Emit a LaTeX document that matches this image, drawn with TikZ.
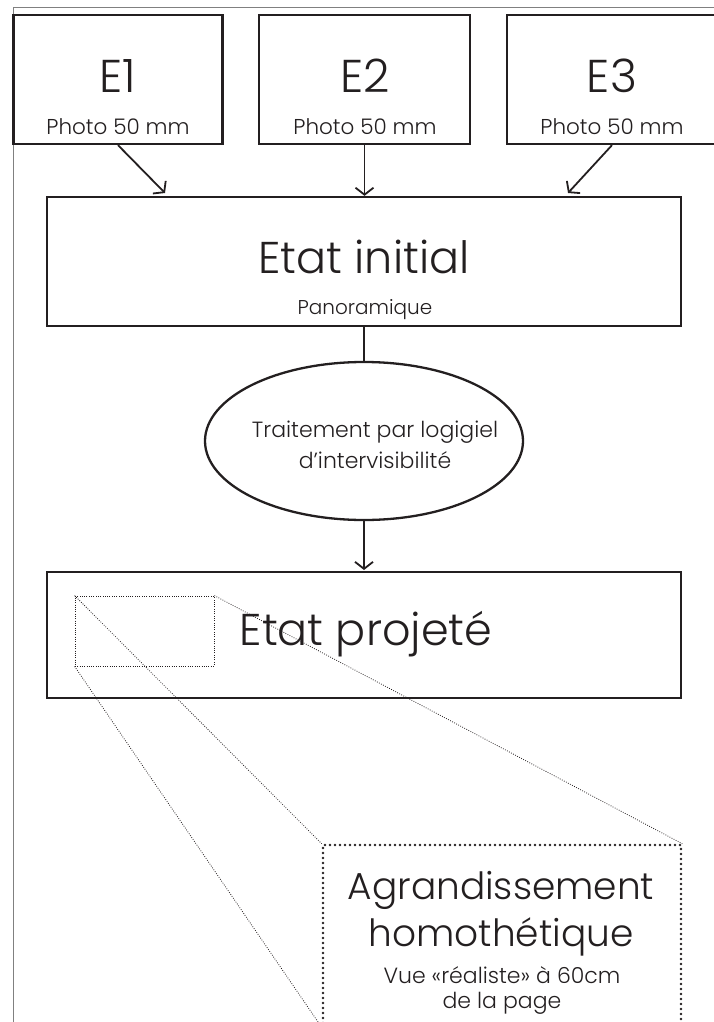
\documentclass[tikz,border=0pt]{standalone}
\usepackage{fontspec}
\setmainfont{Poppins}[UprightFont=* Light]
\usetikzlibrary{arrows.meta,shapes.geometric}
\definecolor{ink}{HTML}{231F20}
\begin{document}
\begin{tikzpicture}[x=1pt,y=-1pt,
  box/.style={draw=ink, line width=2.3pt, rectangle, inner sep=0pt},
  arr/.style={draw=ink, line width=1.8pt, -{Straight Barb[length=7pt,width=18pt,line width=1.8pt]}},
  plain/.style={draw=ink, line width=1.8pt},
  fine/.style={draw=ink, line width=0.8pt, dash pattern=on 0.8pt off 1.5pt},
  dotbox/.style={draw=ink, line width=2.6pt, line cap=round, dash pattern=on 0pt off 5pt, rectangle, inner sep=0pt},
  lbl/.style={text=ink, inner sep=0pt, align=center},
  huge/.style={lbl, font=\fontsize{46}{50}\selectfont},
  big/.style={lbl, font=\fontsize{44.5}{50}\selectfont},
  mid/.style={lbl, font=\fontsize{37.5}{47}\selectfont},
  sm/.style={lbl, font=\fontsize{21.5}{28}\selectfont},
  xs/.style={lbl, font=\fontsize{20}{25}\selectfont}]
\useasboundingbox (0,0) rectangle (714,1022);
\clip (0,0) rectangle (714,1022);
\draw[gray, line width=1pt] (714,8) -- (13,8) -- (13,1022);
% top boxes
\node[box, minimum width=209pt, minimum height=129pt] (e1) at (118,79.5) {};
\node[box, minimum width=211pt, minimum height=129pt] (e2) at (364.5,79.5) {};
\node[box, minimum width=230pt, minimum height=129pt] (e3) at (622,79.5) {};
\node[huge] (t1) at (118,76) {E1};
\node[huge] (t2) at (365,76) {E2};
\node[huge] (t3) at (612,76) {E3};
\node[sm] (p1) at (118,127) {Photo 50 mm};
\node[sm] (p2) at (365,127) {Photo 50 mm};
\node[sm] (p3) at (612,127) {Photo 50 mm};
% etat initial
\node[box, minimum width=634pt, minimum height=129pt] (ini) at (364,261.5) {};
\node[big] (tini) at (364,257) {Etat initial};
\node[xs] (pano) at (365,310) {Panoramique};
\coordinate (a1) at (165,193);
\coordinate (a3) at (568,193);
\draw[arr] (e1.south) -- (a1);
\draw[arr] (e2.south) -- (e2.south |- ini.north);
\draw[arr] ([xshift=-10pt]e3.south) -- (a3);
% ellipse
\node[draw=ink, line width=2.3pt, ellipse, minimum width=318pt, minimum height=158pt, inner sep=0pt] (ell) at (364,441) {};
\node[lbl, font=\fontsize{22}{31}\selectfont] (tel) at (375,445) {Traitement par logigiel\\d’intervisibilité};
\draw[plain] (ini.south) -- (ell.north);
\draw[arr] (ell.south) -- (ell.south |- 0,570);
% etat projete
\node[box, minimum width=634pt, minimum height=126pt] (proj) at (364,635) {};
\node[big] (tproj) at (366,634) {Etat projeté};
% zoom
\node[draw=ink, line width=0.8pt, dash pattern=on 0.8pt off 1.5pt, rectangle, inner sep=0pt, minimum width=139pt, minimum height=70pt] (zr) at (144.5,631) {};
\node[dotbox, minimum width=358pt, minimum height=181pt] (zb) at (502,935.5) {};
\draw[fine] (zr.north east) -- (zb.north east);
\draw[fine] (zr.north west) -- (zb.north west);
\draw[fine] (zr.south west) -- (zb.south west);
\node[mid] (tag) at (501,914) {Agrandissement\\homothétique};
\node[lbl, font=\fontsize{22}{25}\selectfont] (tvue) at (502,990) {Vue «réaliste» à 60cm\\de la page};
\end{tikzpicture}
\end{document}
